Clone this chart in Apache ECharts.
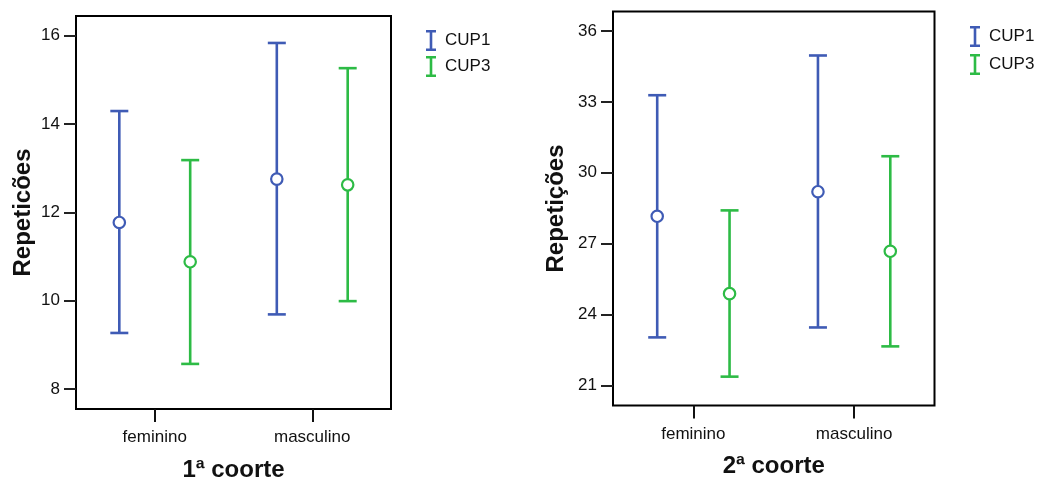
<!DOCTYPE html>
<html>
<head>
<meta charset="utf-8">
<script src="https://cdn.jsdelivr.net/npm/echarts@6/dist/echarts.min.js"></script>
<style>html,body{margin:0;padding:0;background:#fff}#c{width:1042px;height:478px}</style>
</head>
<body>
<div id="c"></div>
<script>
// ---- data ----
const categories = ['feminino', 'masculino'];
const seriesNames = ['CUP1', 'CUP3'];
// 1ª coorte: [mean, lower, upper] per category
const c1_CUP1 = [[11.77, 9.27, 14.29], [12.75, 9.69, 15.83]];
const c1_CUP3 = [[10.88, 8.57, 13.18], [12.62, 9.99, 15.26]];
// 2ª coorte
const c2_CUP1 = [[28.16, 23.04, 33.28], [29.20, 23.46, 34.96]];
const c2_CUP3 = [[24.89, 21.38, 28.41], [26.68, 22.66, 30.70]];
const ticks1 = [8, 10, 12, 14, 16];
const ticks2 = [21, 24, 27, 30, 33, 36];
const yTitle1 = 'Repeticões';
const yTitle2 = 'Repetições';
const xTitle1 = '1ª coorte';
const xTitle2 = '2ª coorte';

const BLUE = '#3f5bb5', GREEN = '#2dbb45';
const FONT = '"Liberation Sans", Arial, sans-serif';
const iconPath = 'path://M0,0 H10 V2.6 H6.3 V18.4 H10 V21 H0 V18.4 H3.7 V2.6 H0 Z';

function makeSeries(name, vals, axisIdx, frac, color) {
  return {
    type: 'custom', name: name,
    xAxisIndex: axisIdx, yAxisIndex: axisIdx,
    data: vals.map((v, i) => [i, v[0], v[1], v[2]]),
    itemStyle: { color: color },
    renderItem: function (params, api) {
      const band = api.size([1, 0])[0];
      const off = band * frac;
      const pm = api.coord([api.value(0), api.value(1)]);
      const pl = api.coord([api.value(0), api.value(2)]);
      const pu = api.coord([api.value(0), api.value(3)]);
      const x = pm[0] + off;
      const cap = 9;
      const st = { stroke: color, lineWidth: 2.6 };
      return {
        type: 'group',
        children: [
          { type: 'line', shape: { x1: x, y1: pu[1], x2: x, y2: pl[1] }, style: st },
          { type: 'line', shape: { x1: x - cap, y1: pu[1], x2: x + cap, y2: pu[1] }, style: st },
          { type: 'line', shape: { x1: x - cap, y1: pl[1], x2: x + cap, y2: pl[1] }, style: st },
          { type: 'circle', shape: { cx: x, cy: pm[1], r: 5.7 }, style: { stroke: color, fill: '#fff', lineWidth: 2.2 } }
        ]
      };
    }
  };
}

function xAxisCfg(gi, title) {
  return {
    type: 'category', gridIndex: gi, data: categories,
    axisLine: { show: false },
    axisTick: { show: true, length: 13, alignWithLabel: true, lineStyle: { color: '#111', width: 2 } },
    axisLabel: { color: '#111', fontSize: 17, fontFamily: FONT, margin: 20 },
    name: title, nameLocation: 'middle', nameGap: 49,
    nameTextStyle: { color: '#111', fontSize: 24, fontWeight: 'bold', fontFamily: FONT }
  };
}
function yAxisCfg(gi, min, max, tv, title, gap) {
  return {
    type: 'value', gridIndex: gi, min: min, max: max,
    axisLine: { show: false },
    splitLine: { show: false },
    axisTick: { show: true, length: 12, customValues: tv, lineStyle: { color: '#222', width: 2 } },
    axisLabel: { color: '#111', fontSize: 17, fontFamily: FONT, margin: 16, customValues: tv },
    name: title, nameLocation: 'middle', nameGap: gap, nameRotate: 90,
    nameTextStyle: { color: '#111', fontSize: 24, fontWeight: 'bold', fontFamily: FONT }
  };
}

const chart = echarts.init(document.getElementById('c'));
chart.setOption({
  animation: false,
  backgroundColor: '#fff',
  grid: [
    { left: 76, top: 16, width: 315, height: 393, show: true, borderColor: '#000', borderWidth: 2, backgroundColor: 'transparent', containLabel: false, outerBoundsMode: 'none' },
    { left: 613, top: 11.5, width: 321.5, height: 394, show: true, borderColor: '#000', borderWidth: 2, backgroundColor: 'transparent', containLabel: false, outerBoundsMode: 'none' }
  ],
  xAxis: [xAxisCfg(0, xTitle1), xAxisCfg(1, xTitle2)],
  yAxis: [
    yAxisCfg(0, 7.55, 16.44, ticks1, yTitle1, 41),
    yAxisCfg(1, 20.16, 36.82, ticks2, yTitle2, 45)
  ],
  legend: [
    { left: 421, top: 25, orient: 'vertical', itemWidth: 10, itemHeight: 22, itemGap: 5,
      data: seriesNames.map(n => ({ name: n, icon: iconPath })),
      textStyle: { color: '#111', fontSize: 17, fontFamily: FONT, padding: [0, 0, 0, 4] }, selectedMode: false },
    { left: 965, top: 21, orient: 'vertical', itemWidth: 10, itemHeight: 22, itemGap: 7,
      data: seriesNames.map(n => ({ name: n, icon: iconPath })),
      textStyle: { color: '#111', fontSize: 17, fontFamily: FONT, padding: [0, 0, 0, 4] }, selectedMode: false }
  ],
  series: [
    makeSeries('CUP1', c1_CUP1, 0, -0.225, BLUE),
    makeSeries('CUP3', c1_CUP3, 0, 0.225, GREEN),
    makeSeries('CUP1', c2_CUP1, 1, -0.225, BLUE),
    makeSeries('CUP3', c2_CUP3, 1, 0.225, GREEN)
  ]
});
</script>
</body>
</html>
